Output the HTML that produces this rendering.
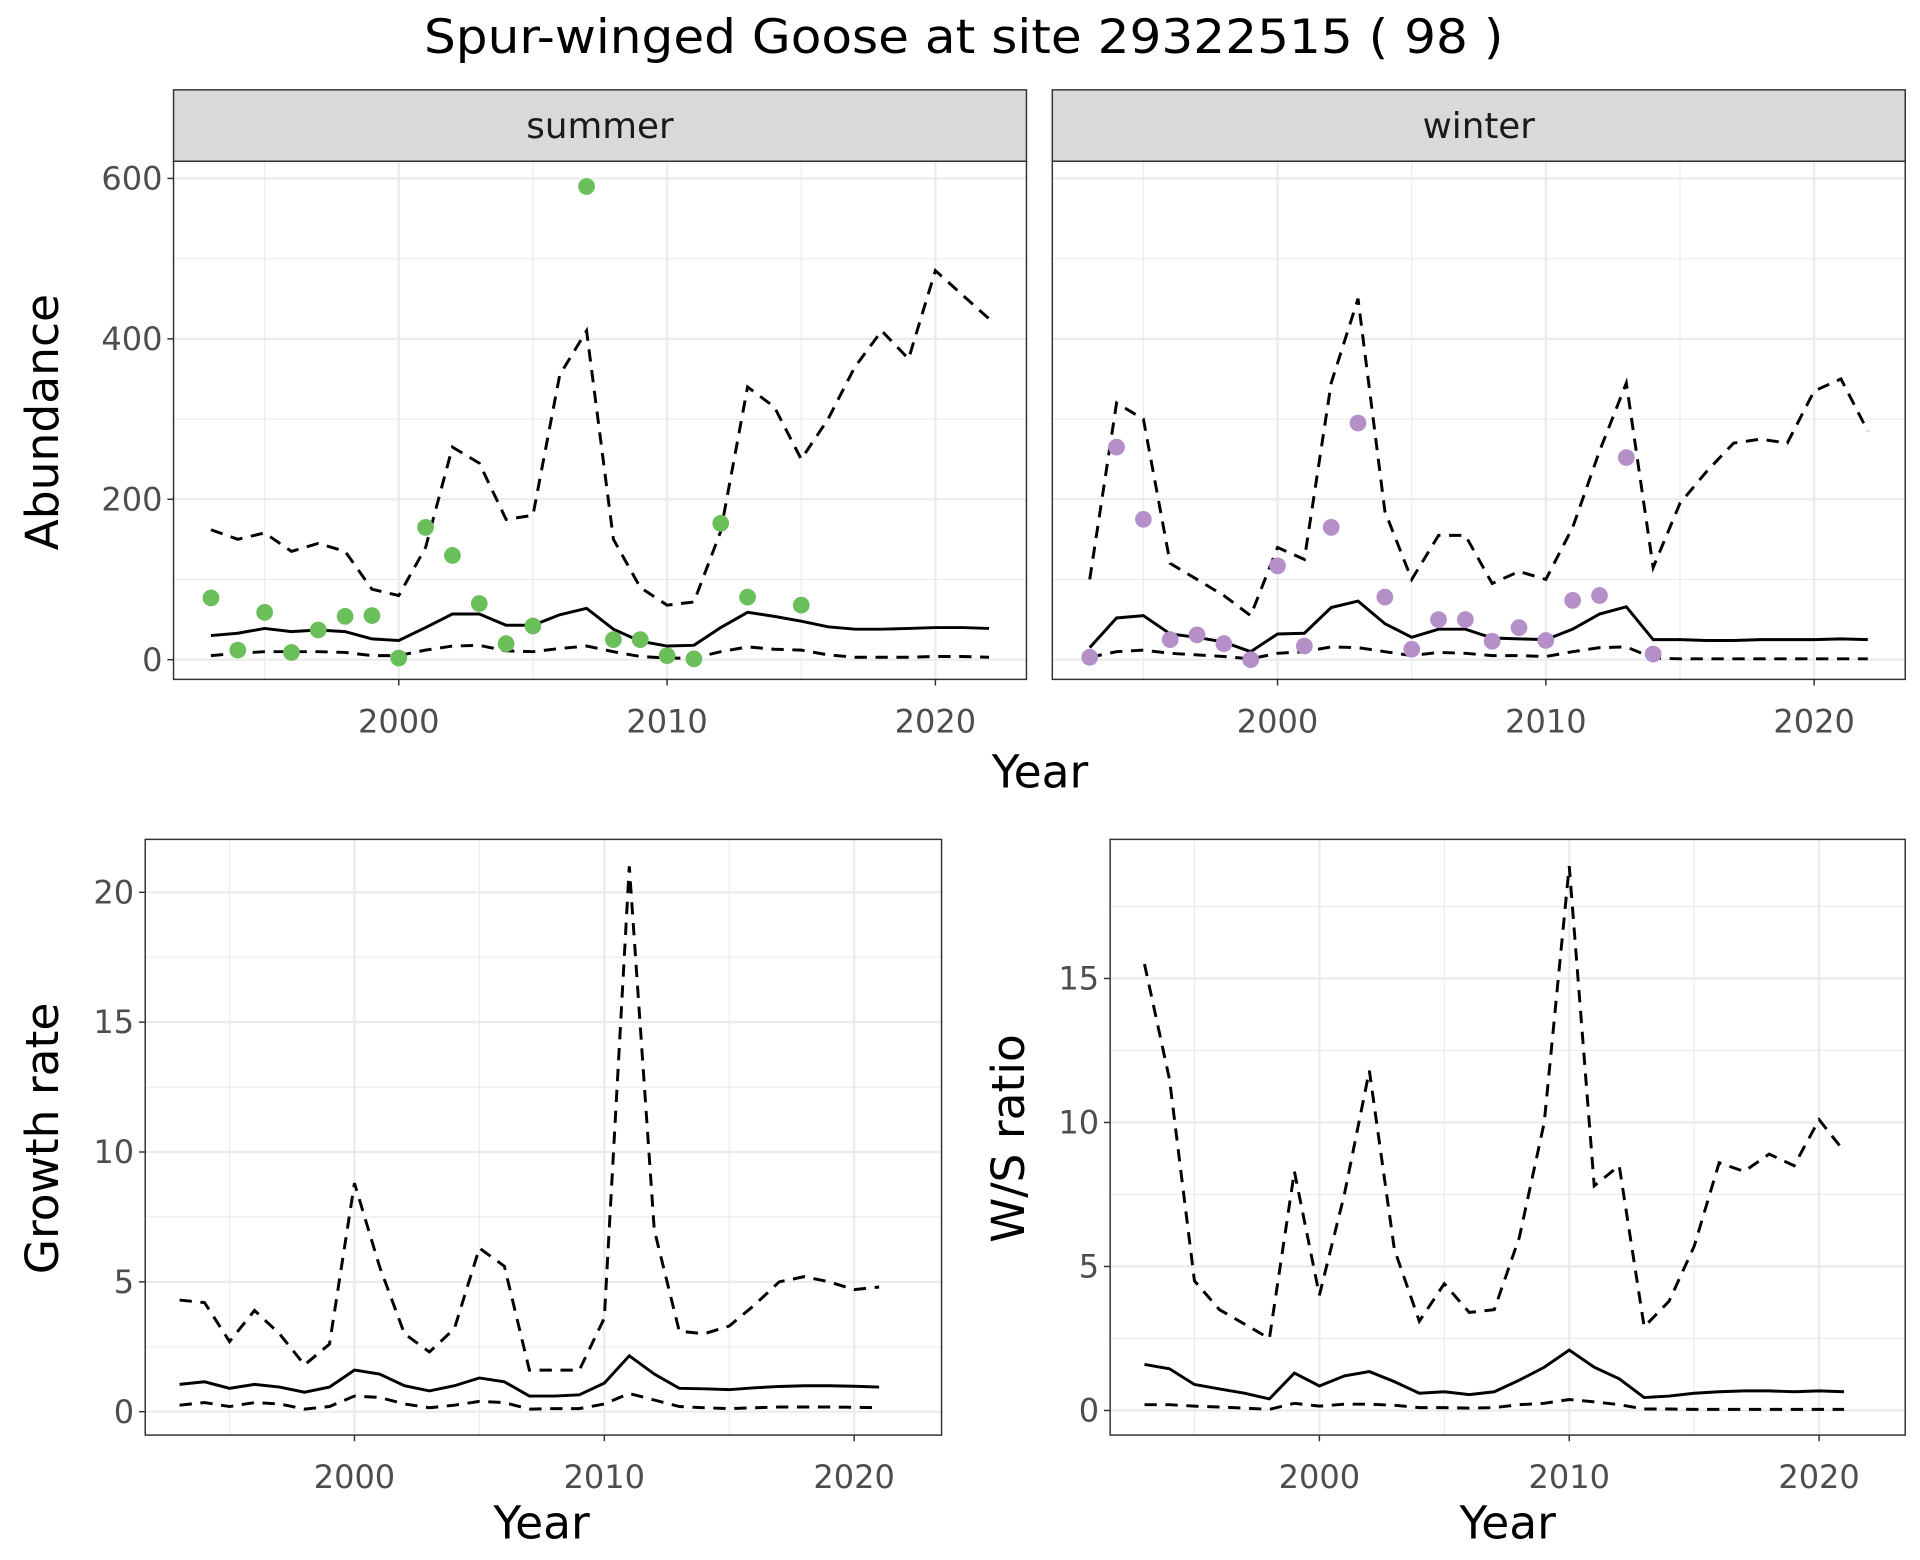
<!DOCTYPE html>
<html><head><meta charset="utf-8"><style>
body{margin:0;background:#fff}
svg{display:block;font-family:"DejaVu Sans","Liberation Sans",sans-serif}
</style></head><body>
<svg id="chart" width="1920" height="1560" viewBox="0 0 1560 1267.5" xmlns="http://www.w3.org/2000/svg">
<rect width="1560" height="1267.5" fill="#fff"/>
<text x="783" y="43" font-size="38" text-anchor="middle" fill="#000" textLength="877" lengthAdjust="spacingAndGlyphs">Spur-winged Goose at site 29322515 ( 98 )</text>
<g id="root"></g>
</svg>
<script>
const yearsA = [1993,1994,1995,1996,1997,1998,1999,2000,2001,2002,2003,2004,2005,2006,2007,2008,2009,2010,2011,2012,2013,2014,2015,2016,2017,2018,2019,2020,2021,2022];
const summerMid = [30,33,39,35,37,35,26,24,40,57,57,43,43,56,64,38,23,17,18,40,59,54,48,41,38,38,39,40,40,39];
const summerUp = [162,150,158,135,145,135,88,80,140,265,245,175,180,355,410,150,90,68,72,160,340,315,250,300,365,410,375,485,455,425];
const summerLo = [5,8,10,10,10,9,5,5,12,17,18,11,10,14,17,10,4,2,2,10,16,13,12,6,3,3,3,4,4,3];
const summerPtYears = [1993,1994,1995,1996,1997,1998,1999,2000,2001,2002,2003,2004,2005,2007,2008,2009,2010,2011,2012,2013,2015];
const summerPts = [77,12,59,9,37,54,55,2,165,130,70,20,42,590,25,25,5,1,170,78,68];
const winterMid = [15,52,55,32,28,22,10,32,33,65,73,45,28,38,38,27,26,25,38,57,66,25,25,24,24,25,25,25,26,25];
const winterUp = [100,320,300,120,100,80,55,140,125,345,450,185,100,155,155,95,110,100,165,260,345,115,195,235,270,275,270,335,350,285];
const winterLo = [3,10,12,8,6,4,1,8,10,16,15,10,5,9,8,5,5,4,10,15,16,2,1,1,1,1,1,1,1,1];
const winterPtYears = [1993,1994,1995,1996,1997,1998,1999,2000,2001,2002,2003,2004,2005,2006,2007,2008,2009,2010,2011,2012,2013,2014];
const winterPts = [3,265,175,25,31,20,0,117,17,165,295,78,13,50,50,23,40,24,74,80,252,7];
const yearsB = [1993,1994,1995,1996,1997,1998,1999,2000,2001,2002,2003,2004,2005,2006,2007,2008,2009,2010,2011,2012,2013,2014,2015,2016,2017,2018,2019,2020,2021];
const growthMid = [1.05,1.15,0.9,1.05,0.95,0.75,0.95,1.6,1.45,1.0,0.8,1.0,1.3,1.15,0.6,0.6,0.65,1.1,2.15,1.45,0.9,0.88,0.85,0.92,0.97,1.0,1.0,0.98,0.95];
const growthUp = [4.3,4.2,2.7,3.9,3.0,1.8,2.6,8.8,5.6,3.0,2.3,3.2,6.3,5.6,1.6,1.6,1.6,3.6,21.0,7.0,3.1,3.0,3.3,4.1,5.0,5.2,5.0,4.7,4.8];
const growthLo = [0.25,0.35,0.2,0.35,0.3,0.1,0.2,0.6,0.55,0.3,0.15,0.25,0.4,0.35,0.1,0.12,0.12,0.3,0.7,0.45,0.2,0.15,0.12,0.15,0.18,0.18,0.18,0.17,0.15];
const wsMid = [1.6,1.45,0.9,0.75,0.6,0.4,1.3,0.85,1.2,1.35,1.0,0.6,0.65,0.55,0.65,1.05,1.5,2.1,1.5,1.1,0.45,0.5,0.6,0.65,0.68,0.68,0.65,0.68,0.65];
const wsUp = [15.5,11.5,4.5,3.5,3.0,2.5,8.3,4.0,7.5,11.8,5.6,3.1,4.4,3.4,3.5,6.0,10.0,18.9,7.8,8.5,2.9,3.8,5.7,8.6,8.3,8.9,8.5,10.1,9.0];
const wsLo = [0.2,0.2,0.15,0.12,0.08,0.04,0.25,0.15,0.22,0.22,0.18,0.1,0.1,0.08,0.1,0.2,0.25,0.38,0.3,0.2,0.05,0.05,0.04,0.04,0.04,0.04,0.04,0.04,0.04];
const xTicks = [2000,2010,2020];
const xMinor = [1995,2005,2015];
const abTicks = [0,200,400,600];
const abMinor = [100,300,500];
const grTicks = [0,5,10,15,20];
const grMinor = [2.5,7.5,12.5,17.5];
const wsTicks = [0,5,10,15];
const wsMinor = [2.5,7.5,12.5,17.5];

const NS='http://www.w3.org/2000/svg';
const root=document.getElementById('root');
function mk(tag,attrs,parent){const e=document.createElementNS(NS,tag);for(const k in attrs)e.setAttribute(k,attrs[k]);(parent||root).appendChild(e);return e;}

function panel(p){
  const g=mk('g',{});
  
  
  mk('rect',{x:p.x0,y:p.y0,width:p.x1-p.x0,height:p.y1-p.y0,fill:'#fff'},g);
  const xs=v=>p.xa+(v-2000)*p.xk, ys=v=>p.ya-v*p.yk;
  p.yMinor.forEach(v=>{const y=ys(v);if(y>p.y0&&y<p.y1)mk('line',{x1:p.x0,x2:p.x1,y1:y,y2:y,stroke:'#ebebeb','stroke-width':0.9},g);});
  xMinor.forEach(v=>mk('line',{x1:xs(v),x2:xs(v),y1:p.y0,y2:p.y1,stroke:'#ebebeb','stroke-width':0.9},g));
  p.yTicks.forEach(v=>{const y=ys(v);mk('line',{x1:p.x0,x2:p.x1,y1:y,y2:y,stroke:'#ebebeb','stroke-width':1.8},g);});
  xTicks.forEach(v=>mk('line',{x1:xs(v),x2:xs(v),y1:p.y0,y2:p.y1,stroke:'#ebebeb','stroke-width':1.8},g));
  p.series.forEach(s=>{
    const d=s.x.map((yr,i)=>(i?'L':'M')+xs(yr).toFixed(1)+','+ys(s.v[i]).toFixed(1)).join(' ');
    const path=mk('path',{d:d,fill:'none',stroke:'#000','stroke-width':2.4,'stroke-dasharray':s.dash?'10,7':'none'},g);
    
    
  });
  if(p.pts){p.pts.x.forEach((yr,i)=>{
    const c=mk('circle',{cx:xs(yr),cy:ys(p.pts.v[i]),r:6.8,fill:p.pts.color},g);
    
    
  });}
  mk('rect',{x:p.x0,y:p.y0,width:p.x1-p.x0,height:p.y1-p.y0,fill:'none',stroke:'#333','stroke-width':1.2},g);
  if(p.showY){p.yTicks.forEach(v=>{const y=ys(v);mk('line',{x1:p.x0-5,x2:p.x0,y1:y,y2:y,stroke:'#333','stroke-width':1.2},g);
    const t=mk('text',{x:p.x0-9,y:y+9,'font-size':26,'text-anchor':'end',fill:'#4d4d4d'},g);t.textContent=v;
    
    });}
  xTicks.forEach(v=>{mk('line',{x1:xs(v),x2:xs(v),y1:p.y1,y2:p.y1+5,stroke:'#333','stroke-width':1.2},g);
    const t=mk('text',{x:xs(v),y:p.y1+43,'font-size':26,'text-anchor':'middle',fill:'#4d4d4d'},g);t.textContent=v;
    
    });
  if(p.strip){mk('rect',{x:p.x0,y:73,width:p.x1-p.x0,height:p.y0-73,fill:'#d9d9d9',stroke:'#333','stroke-width':1.2},g);
    const t=mk('text',{x:(p.x0+p.x1)/2,y:112,'font-size':29,'text-anchor':'middle',fill:'#1a1a1a'},g);t.textContent=p.strip;
    
    }
}
function label(txt,x,y,rot,name){const t=mk('text',{x:x,y:y,'font-size':37,'text-anchor':'middle',fill:'#000',transform:rot?`rotate(-90 ${x} ${y})`:''});t.textContent=txt;
  
  }

panel({name:'summer-panel',x0:141,x1:834,y0:131,y1:552,xa:324,xk:21.8,ya:536,yk:0.6517,yTicks:abTicks,yMinor:abMinor,showY:true,strip:'summer',
  series:[{x:yearsA,v:summerUp,dash:1,name:'summer-upper'},{x:yearsA,v:summerMid,name:'summer-estimate'},{x:yearsA,v:summerLo,dash:1,name:'summer-lower'}],
  pts:{x:summerPtYears,v:summerPts,color:'#6abf5a'}});
panel({name:'winter-panel',x0:855,x1:1548,y0:131,y1:552,xa:1038,xk:21.8,ya:536,yk:0.6517,yTicks:abTicks,yMinor:abMinor,showY:false,strip:'winter',
  series:[{x:yearsA,v:winterUp,dash:1,name:'winter-upper'},{x:yearsA,v:winterMid,name:'winter-estimate'},{x:yearsA,v:winterLo,dash:1,name:'winter-lower'}],
  pts:{x:winterPtYears,v:winterPts,color:'#b48fc8'}});
panel({name:'growth-panel',x0:118,x1:765,y0:682,y1:1166,xa:288,xk:20.3,ya:1147,yk:21.1,yTicks:grTicks,yMinor:grMinor,showY:true,
  series:[{x:yearsB,v:growthUp,dash:1,name:'growth-upper'},{x:yearsB,v:growthMid,name:'growth-estimate'},{x:yearsB,v:growthLo,dash:1,name:'growth-lower'}]});
panel({name:'ws-panel',x0:902,x1:1548,y0:682,y1:1166,xa:1072,xk:20.3,ya:1146,yk:23.4,yTicks:wsTicks,yMinor:wsMinor,showY:true,
  series:[{x:yearsB,v:wsUp,dash:1,name:'ws-upper'},{x:yearsB,v:wsMid,name:'ws-estimate'},{x:yearsB,v:wsLo,dash:1,name:'ws-lower'}]});
label('Abundance',47,343,true,'abundance-y-title');
label('Year',845,640,false,'top-x-title');
label('Growth rate',47,925,true,'growth-y-title');
label('Year',440,1250,false,'growth-x-title');
label('W/S ratio',832,925,true,'ws-y-title');
label('Year',1225,1250,false,'ws-x-title');
</script>
</body></html>
